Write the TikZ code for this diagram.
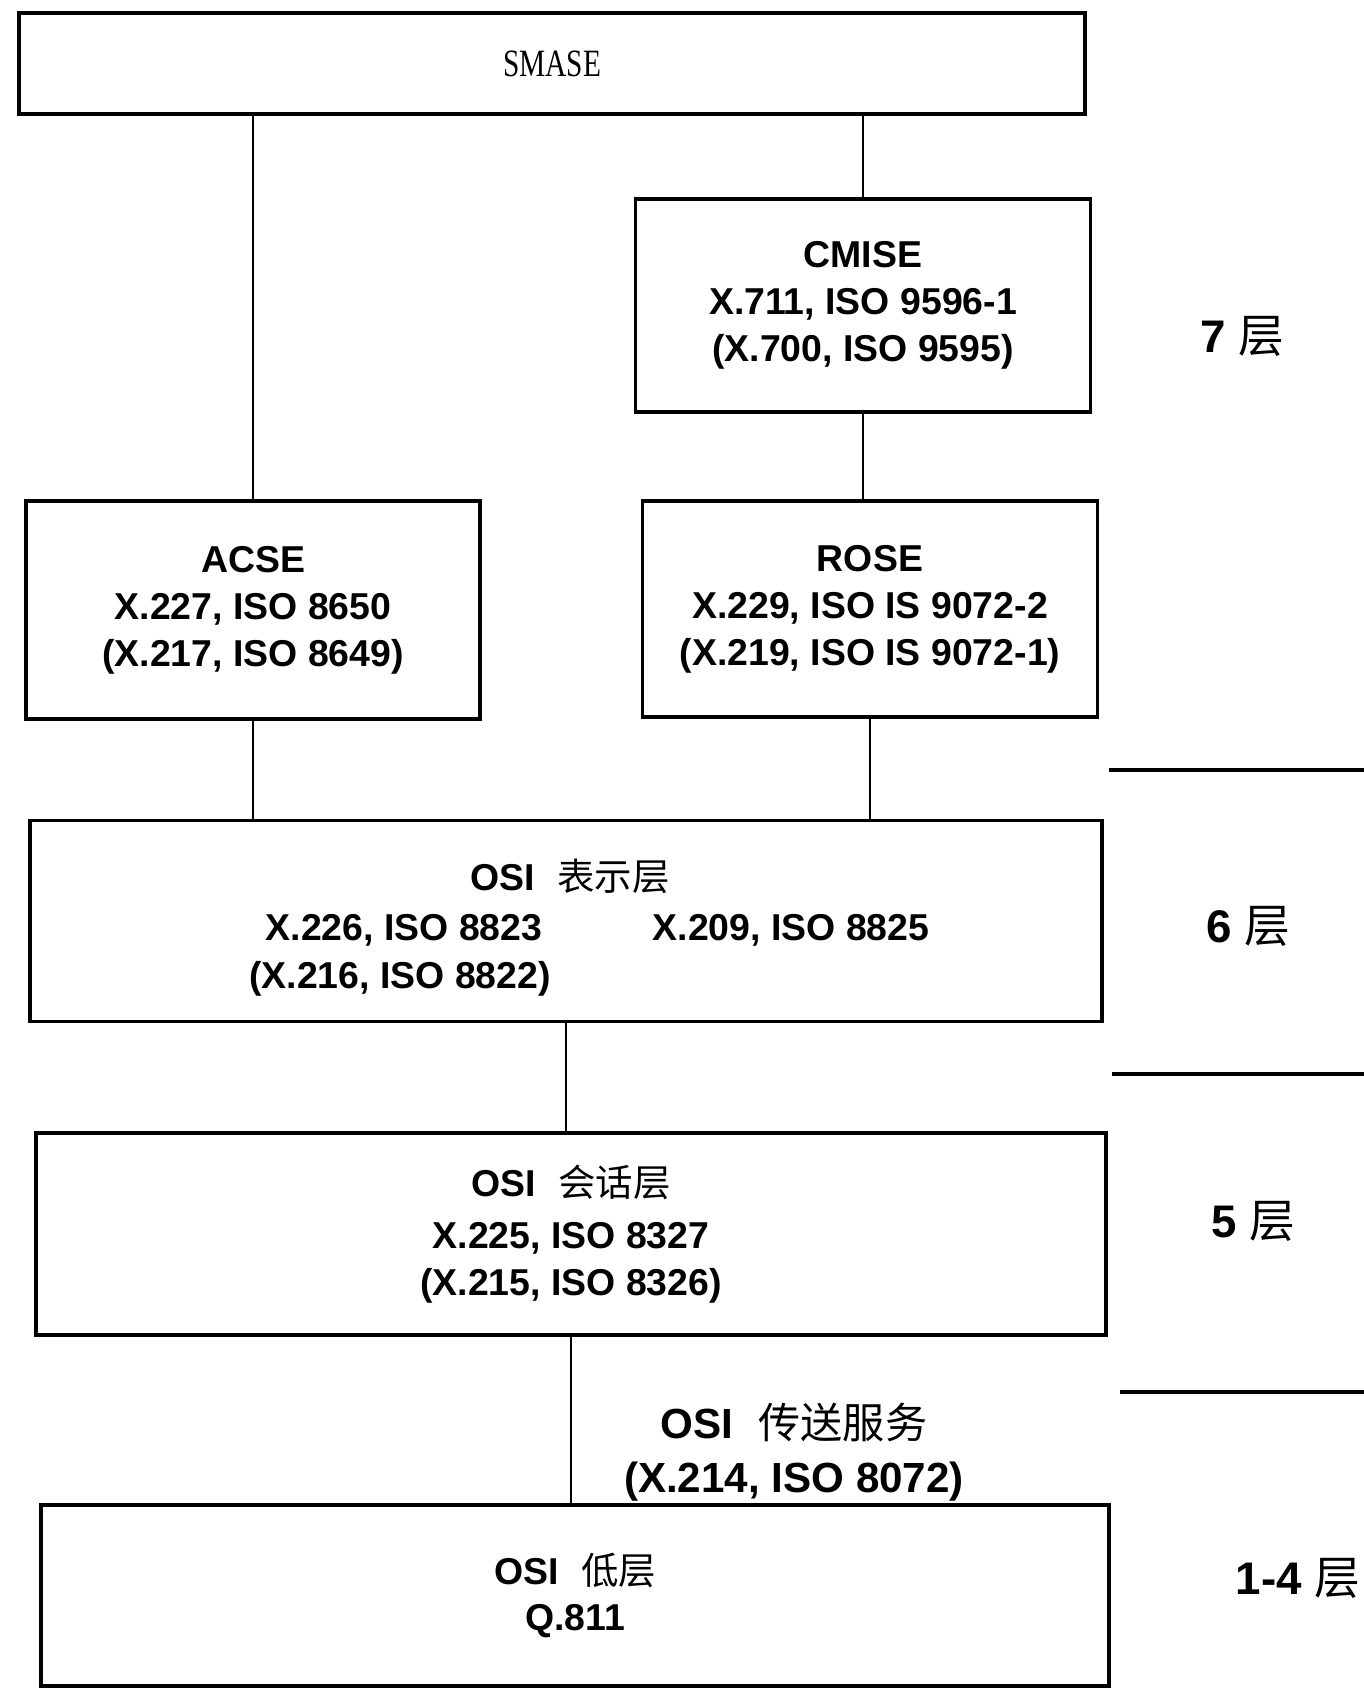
\documentclass[tikz,border=0pt]{standalone}
\usepackage{fontspec}
\setmainfont{Liberation Sans}
\newfontfamily\cjkfont{Noto Sans CJK SC}
\newfontfamily\smasefont[FakeStretch=0.76]{Liberation Serif}
\newcommand{\zh}[1]{{\cjkfont\mdseries #1}}
\tikzset{
    % Base style for all boxes
    box base/.style={
        draw=black,
        line width=1.9pt,
        align=center,
        inner sep=0pt,
    },
    % Service boxes - CMISE, ACSE, ROSE
    service/.style={
        box base,
        minimum width=9.1cm,
        minimum height=4.3cm,
        font=\fontsize{21.3}{26.7}\selectfont\bfseries,
    },
    % Wide layer boxes
    layer/.style={
        box base,
        minimum width=21.4cm,
        font=\fontsize{21.3}{26.7}\selectfont\bfseries,
    },
    % Loose text lines inside a box
    box text/.style={
        font=\fontsize{21.3}{26.7}\selectfont\bfseries,
        inner sep=0pt,
    },
    % Plain connecting line
    link/.style={
        line width=1.3pt,
    },
    % Layer dividers on the right
    divider/.style={
        line width=2pt,
    },
    % Layer number labels
    layer label/.style={
        font=\fontsize{26}{30}\selectfont\bfseries,
        inner sep=0pt,
    },
}
\begin{document}
\begin{tikzpicture}[x=0.02cm, y=-0.02cm]
    \useasboundingbox (0,0) rectangle (1364,1688);

    \node (smase) [box base, minimum width=21.32cm, minimum height=2.02cm, font=\smasefont\fontsize{22}{26}\selectfont] at (552,63.5) {SMASE};
    \node (cmise) [service, minimum height=4.26cm] at (863,305.5) {CMISE\\X.711, ISO 9596-1\\(X.700, ISO 9595)};
    \node (acse) [service, minimum width=9.08cm, minimum height=4.36cm] at (253,610) {ACSE\\X.227, ISO 8650\\(X.217, ISO 8649)};
    \node (rose) [service, minimum height=4.32cm] at (870,609) {ROSE\\X.229, ISO IS 9072-2\\(X.219, ISO IS 9072-1)};

    \node (pres) [layer, minimum width=21.44cm, minimum height=4.02cm] at (566,921) {};
    \node (pres title) [box text] at (570,876) {OSI\hspace{0.6em}\zh{表示层}};
    \node (pres a) [box text] at (404,930) {X.226, ISO 8823};
    \node (pres b) [box text] at (791,930) {X.209, ISO 8825};
    \node (pres c) [box text] at (400,979) {(X.216, ISO 8822)};

    \node (sess) [layer, minimum height=4.04cm] at (571,1234) {OSI\hspace{0.6em}\zh{会话层}\\[3pt]X.225, ISO 8327\\(X.215, ISO 8326)};
    \node (low) [layer, minimum width=21.36cm, minimum height=3.62cm] at (575,1595.5) {OSI\hspace{0.6em}\zh{低层}\\Q.811};

    \node (transport) [layer label, font=\fontsize{24}{30.6}\selectfont\bfseries, align=center] at (794,1452) {OSI\hspace{0.6em}\zh{传送服务}\\(X.214, ISO 8072)};

    \draw [link] (smase.south -| acse.north) -- (acse.north);
    \draw [link] (smase.south -| cmise.north) -- (cmise.north);
    \draw [link] (cmise.south) -- (rose.north -| cmise.south);
    \draw [link] (acse.south) -- (pres.north -| acse.south);
    \draw [link] (rose.south) -- (pres.north -| rose.south);
    \draw [link] (pres.south) -- (sess.north -| pres.south);
    \draw [link] (sess.south) -- (low.north -| sess.south);

    % layer dividers
    \draw [divider] (1109,770) -- (1364,770);
    \draw [divider] (1112,1074) -- (1364,1074);
    \draw [divider] (1120,1392) -- (1364,1392);

    \node (l7) [layer label] at (1242,336) {7 \zh{层}};
    \node (l6) [layer label] at (1248,926) {6 \zh{层}};
    \node (l5) [layer label] at (1253,1221) {5 \zh{层}};
    \node (l14) [layer label] at (1298,1578) {1-4 \zh{层}};
\end{tikzpicture}
\end{document}
